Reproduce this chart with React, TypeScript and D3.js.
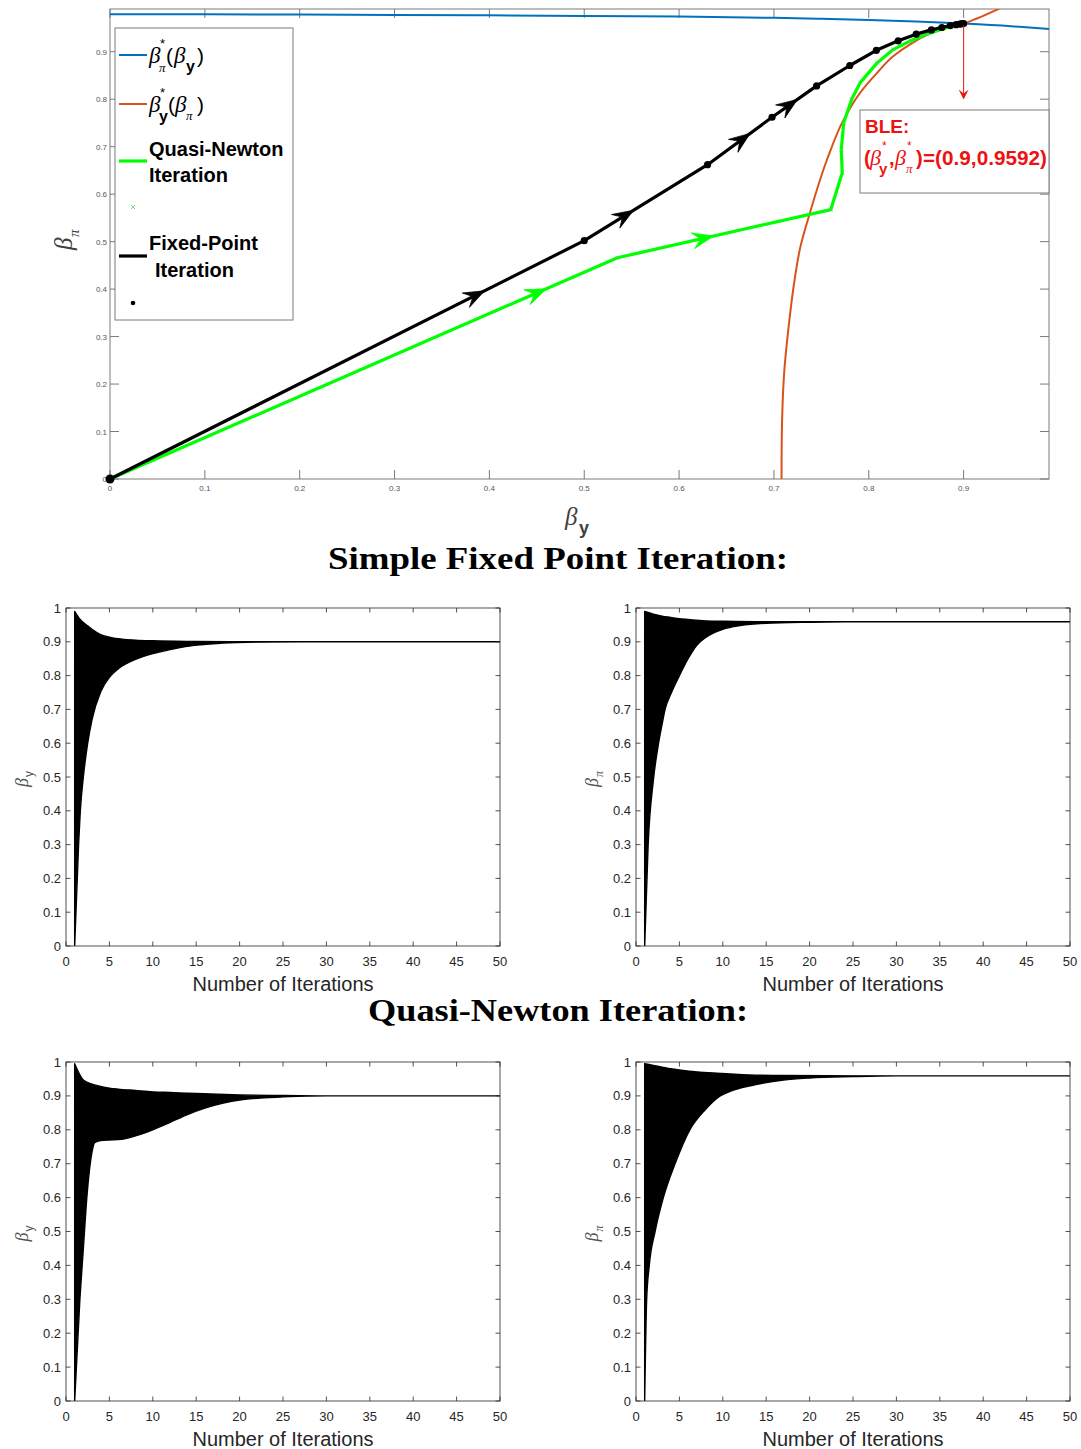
import React from "react";
import * as d3 from "d3";

// ---------- Top chart data ----------
const topTicks = [0, 0.1, 0.2, 0.3, 0.4, 0.5, 0.6, 0.7, 0.8, 0.9];
const topTickLabels = ["0", "0.1", "0.2", "0.3", "0.4", "0.5", "0.6", "0.7", "0.8", "0.9"];

// beta_pi*(beta_y)  (blue)
const blueX = [0, 0.1, 0.2, 0.3, 0.4, 0.5, 0.6, 0.7, 0.75, 0.8, 0.85, 0.9, 0.95, 0.99];
const blueY = [0.979, 0.9788, 0.9783, 0.9776, 0.9767, 0.9755, 0.974, 0.9715, 0.9695, 0.967, 0.9635, 0.9592, 0.9538, 0.948];

// beta_y*(beta_pi)  (orange)
const orangeY = [0, 0.05, 0.124, 0.23, 0.321, 0.406, 0.49, 0.561, 0.673, 0.757, 0.814, 0.856, 0.891, 0.916, 0.935, 0.949, 0.9592, 0.97, 0.995];
const orangeX = [0.708, 0.7081, 0.7086, 0.711, 0.7155, 0.7208, 0.728, 0.738, 0.756, 0.7735, 0.791, 0.809, 0.826, 0.844, 0.861, 0.879, 0.9, 0.914, 0.942];

// Fixed-point iteration path (black)
const fpX = [0, 0.5, 0.63, 0.698, 0.745, 0.78, 0.808, 0.831, 0.85, 0.866, 0.877, 0.886, 0.892, 0.896, 0.898, 0.9];
const fpY = [0, 0.502, 0.662, 0.762, 0.828, 0.871, 0.903, 0.923, 0.937, 0.946, 0.951, 0.955, 0.957, 0.958, 0.959, 0.9592];
const fpArrowSeg = [0, 1, 2, 3];
const fpArrowT = [0.79, 0.4, 0.66, 0.57];

// Quasi-Newton iteration path (green)
const qnX = [0, 0.535, 0.76, 0.772, 0.771, 0.7735, 0.782, 0.791, 0.809, 0.826, 0.844, 0.861, 0.879, 0.897, 0.9];
const qnY = [0, 0.466, 0.5675, 0.645, 0.694, 0.75, 0.8, 0.835, 0.877, 0.905, 0.923, 0.937, 0.949, 0.958, 0.9592];
const qnArrowSeg = [0, 1];
const qnArrowT = [0.86, 0.45];

const bleX = 0.9;
const bleY = 0.9592;

// ---------- Iteration panels data ----------
const iterTicks = [0, 5, 10, 15, 20, 25, 30, 35, 40, 45, 50];
const valTicks = [0, 0.1, 0.2, 0.3, 0.4, 0.5, 0.6, 0.7, 0.8, 0.9, 1];
const valTickLabels = ["0", "0.1", "0.2", "0.3", "0.4", "0.5", "0.6", "0.7", "0.8", "0.9", "1"];

// Simple fixed point, beta_y
const fpyUpperIt = [1, 1.5, 2, 2.5, 3, 4, 5, 6, 8, 10, 15, 20, 50];
const fpyUpperV = [0.99, 0.97, 0.957, 0.947, 0.937, 0.921, 0.914, 0.909, 0.905, 0.903, 0.901, 0.9, 0.9];
const fpyLowerIt = [1, 1.45, 1.65, 2, 2.5, 3, 4, 5, 6, 7, 8, 10, 12, 15, 18, 22, 30, 50];
const fpyLowerV = [0, 0.3, 0.4, 0.5, 0.6, 0.67, 0.752, 0.795, 0.82, 0.836, 0.848, 0.865, 0.877, 0.89, 0.896, 0.899, 0.9, 0.9];

// Simple fixed point, beta_pi
const fppUpperIt = [1, 2, 3, 4, 5, 6, 7, 8, 10, 15, 50];
const fppUpperV = [0.99, 0.982, 0.976, 0.972, 0.968, 0.966, 0.964, 0.962, 0.961, 0.9595, 0.9592];
const fppLowerIt = [1, 1.4, 2, 2.6, 3, 3.35, 4, 5, 6, 7, 8, 9, 10, 12, 15, 20, 25, 50];
const fppLowerV = [0, 0.3, 0.49, 0.6, 0.655, 0.7, 0.745, 0.8, 0.85, 0.89, 0.912, 0.927, 0.937, 0.948, 0.955, 0.958, 0.9592, 0.9592];

// Quasi-Newton, beta_y
const qnyUpperIt = [1, 2, 3, 4, 5, 6, 8, 10, 12, 15, 20, 25, 30, 50];
const qnyUpperV = [0.995, 0.947, 0.935, 0.928, 0.923, 0.92, 0.916, 0.912, 0.91, 0.907, 0.903, 0.901, 0.9, 0.9];
const qnyLowerIt = [1, 1.6, 2, 2.4, 3, 3.3, 4, 5, 6, 7, 8, 9, 10, 12, 14, 16, 18, 20, 25, 30, 50];
const qnyLowerV = [0, 0.3, 0.45, 0.6, 0.735, 0.762, 0.768, 0.77, 0.771, 0.775, 0.782, 0.79, 0.8, 0.822, 0.845, 0.864, 0.878, 0.888, 0.897, 0.9, 0.9];

// Quasi-Newton, beta_pi
const qnpUpperIt = [1, 2, 3, 4, 5.4, 7, 9.3, 13, 17, 25, 50];
const qnpUpperV = [0.995, 0.99, 0.985, 0.98, 0.975, 0.971, 0.967, 0.962, 0.96, 0.9592, 0.9592];
const qnpLowerIt = [1, 1.23, 1.53, 2.2, 3.15, 4.5, 6.2, 8, 9.7, 11, 13.2, 17, 20, 25, 30, 50];
const qnpLowerV = [0, 0.3, 0.4, 0.5, 0.6, 0.7, 0.8, 0.86, 0.9, 0.915, 0.93, 0.947, 0.953, 0.957, 0.9592, 0.9592];

// ---------- styling ----------
const BLUE = "#0072BD";
const ORANGE = "#D95319";
const GREEN = "#00FF00";
const RED = "#EE1111";
const AXIS = "#262626";
const SANS = "'Liberation Sans', Arial, sans-serif";
const SERIF = "'Liberation Serif', 'Times New Roman', serif";

function arrowHead(x: number, y: number, ang: number, L = 21, W = 16) {
  const c = Math.cos(ang), s = Math.sin(ang);
  const pt = (u: number, v: number) => [x + u * c - v * s, y + u * s + v * c];
  const p = [pt(0, 0), pt(-L, -W / 2), pt(-0.62 * L, 0), pt(-L, W / 2)];
  return "M" + p.map((q) => q[0].toFixed(2) + "," + q[1].toFixed(2)).join("L") + "Z";
}

function TopChart() {
  const L = 110, R = 1049, T = 9, B = 479;
  const x = d3.scaleLinear().domain([0, 0.99]).range([L, R]);
  const y = d3.scaleLinear().domain([0, 0.99]).range([B, T]);

  const blueLine = d3.line<number>().x((_, i) => x(blueX[i])).y((v) => y(v)).curve(d3.curveMonotoneX)(blueY) || "";
  const orangeLine = d3.line<number>().x((v) => x(v)).y((_, i) => y(orangeY[i])).curve(d3.curveMonotoneY)(orangeX) || "";
  const fpPts = fpX.map((v, i) => [x(v), y(fpY[i])] as [number, number]);
  const qnPts = qnX.map((v, i) => [x(v), y(qnY[i])] as [number, number]);
  const fpLine = d3.line()(fpPts) || "";
  const qnLine = d3.line()(qnPts) || "";

  const arrowFrom = (pts: [number, number][], seg: number, t: number) => {
    const a = pts[seg], b = pts[seg + 1];
    const px = a[0] + (b[0] - a[0]) * t, py = a[1] + (b[1] - a[1]) * t;
    return arrowHead(px, py, Math.atan2(b[1] - a[1], b[0] - a[0]));
  };

  const tickLen = 9;
  const bx = x(bleX), by = y(bleY);

  return (
    <g>
      <defs>
        <clipPath id="topclip">
          <rect x={L} y={T} width={R - L} height={B - T} />
        </clipPath>
      </defs>
      {/* axes box */}
      <rect x={L} y={T} width={R - L} height={B - T} fill="none" stroke="#7a7a7a" strokeWidth={1} />
      {topTicks.map((t, i) => (
        <g key={"xt" + i}>
          <line x1={x(t)} x2={x(t)} y1={B} y2={B - tickLen} stroke="#7a7a7a" />
          <line x1={x(t)} x2={x(t)} y1={T} y2={T + tickLen} stroke="#7a7a7a" />
          <text x={x(t)} y={B + 12} fontSize={8} fill="#555" textAnchor="middle" fontFamily={SANS}>{topTickLabels[i]}</text>
        </g>
      ))}
      {topTicks.map((t, i) => (
        <g key={"yt" + i}>
          <line x1={L} x2={L + tickLen} y1={y(t)} y2={y(t)} stroke="#7a7a7a" />
          <line x1={R} x2={R - tickLen} y1={y(t)} y2={y(t)} stroke="#7a7a7a" />
          <text x={L - 3} y={y(t) + 3} fontSize={8} fill="#555" textAnchor="end" fontFamily={SANS}>{topTickLabels[i]}</text>
        </g>
      ))}
      <g clipPath="url(#topclip)">
        <path d={blueLine} fill="none" stroke={BLUE} strokeWidth={2} />
        <path d={orangeLine} fill="none" stroke={ORANGE} strokeWidth={2} />
      </g>
      {/* Quasi-Newton path */}
      <path d={qnLine} fill="none" stroke={GREEN} strokeWidth={3.2} strokeLinejoin="round" />
      {qnPts.map((p, i) => (
        <path key={"qx" + i} d={`M${p[0] - 2},${p[1] - 2}L${p[0] + 2},${p[1] + 2}M${p[0] - 2},${p[1] + 2}L${p[0] + 2},${p[1] - 2}`} stroke="#4fd24f" strokeWidth={0.8} />
      ))}
      {qnArrowSeg.map((s, i) => (
        <path key={"qa" + i} d={arrowFrom(qnPts, s, qnArrowT[i])} fill={GREEN} stroke={GREEN} strokeWidth={0.8} />
      ))}
      {/* Fixed-point path */}
      <path d={fpLine} fill="none" stroke="#000" strokeWidth={3.2} strokeLinejoin="round" />
      {fpPts.map((p, i) => (
        <circle key={"fd" + i} cx={p[0]} cy={p[1]} r={i === 0 ? 4.5 : 3.6} fill="#000" />
      ))}
      {fpArrowSeg.map((s, i) => (
        <path key={"fa" + i} d={arrowFrom(fpPts, s, fpArrowT[i])} fill="#000" stroke="#000" strokeWidth={0.8} />
      ))}
      {/* BLE arrow */}
      <line x1={bx} x2={bx} y1={by + 2} y2={by + 74} stroke={RED} strokeWidth={1} />
      <path d={`M${bx - 5},${by + 66}L${bx},${by + 76}L${bx + 5},${by + 66}L${bx},${by + 70}Z`} fill={RED} />
      {/* BLE box */}
      <rect x={860} y={110} width={189} height={83} fill="#fff" stroke="#7a7a7a" strokeWidth={1} />
      <text x={865} y={133} fill={RED} fontSize={19} fontWeight="bold" fontFamily={SANS}>BLE:</text>
      <g fill={RED} fontWeight="bold" fontFamily={SANS}>
        <text x={864} y={165} fontSize={20}>(</text>
        <text x={870} y={165} fontSize={22} fontStyle="italic" fontWeight="normal" fontFamily={SERIF}>β</text>
        <text x={882} y={150} fontSize={12} fontWeight="normal">*</text>
        <text x={879} y={174} fontSize={15}>y</text>
        <text x={889} y={165} fontSize={20}>,</text>
        <text x={895} y={165} fontSize={22} fontStyle="italic" fontWeight="normal" fontFamily={SERIF}>β</text>
        <text x={907} y={150} fontSize={12} fontWeight="normal">*</text>
        <text x={906} y={173} fontSize={13} fontStyle="italic" fontWeight="normal" fontFamily={SERIF}>π</text>
        <text x={916} y={165} fontSize={20}>)</text>
        <text x={923} y={165} fontSize={20} textLength={124} lengthAdjust="spacingAndGlyphs">=(0.9,0.9592)</text>
      </g>
      {/* Legend */}
      <rect x={115} y={28} width={178} height={292} fill="#fff" stroke="#7a7a7a" strokeWidth={1} />
      <line x1={119} x2={147} y1={55} y2={55} stroke={BLUE} strokeWidth={2} />
      <g fill="#000" fontFamily={SANS}>
        <text x={149} y={63} fontSize={23} fontStyle="italic" fontFamily={SERIF}>β</text>
        <text x={160} y={48} fontSize={13}>*</text>
        <text x={159} y={72} fontSize={13} fontStyle="italic" fontFamily={SERIF}>π</text>
        <text x={166} y={63} fontSize={21}>(</text>
        <text x={174} y={63} fontSize={23} fontStyle="italic" fontFamily={SERIF}>β</text>
        <text x={186} y={72} fontSize={16} fontWeight="bold">y</text>
        <text x={197} y={63} fontSize={21}>)</text>
      </g>
      <line x1={119} x2={147} y1={104} y2={104} stroke={ORANGE} strokeWidth={2} />
      <g fill="#000" fontFamily={SANS}>
        <text x={149} y={112} fontSize={23} fontStyle="italic" fontFamily={SERIF}>β</text>
        <text x={160} y={97} fontSize={13}>*</text>
        <text x={159} y={122} fontSize={16} fontWeight="bold">y</text>
        <text x={168} y={112} fontSize={21}>(</text>
        <text x={175} y={112} fontSize={23} fontStyle="italic" fontFamily={SERIF}>β</text>
        <text x={186} y={120} fontSize={13} fontStyle="italic" fontFamily={SERIF}>π</text>
        <text x={197} y={112} fontSize={21}>)</text>
      </g>
      <line x1={119} x2={147} y1={161} y2={161} stroke={GREEN} strokeWidth={3.2} />
      <text x={149} y={156} fontSize={20} fontWeight="bold" fontFamily={SANS} fill="#000">Quasi-Newton</text>
      <text x={149} y={182} fontSize={20} fontWeight="bold" fontFamily={SANS} fill="#000">Iteration</text>
      <path d="M131,205L135,209M131,209L135,205" stroke="#4fd24f" strokeWidth={0.8} />
      <line x1={119} x2={147} y1={256} y2={256} stroke="#000" strokeWidth={3.2} />
      <text x={149} y={250} fontSize={20} fontWeight="bold" fontFamily={SANS} fill="#000">Fixed-Point</text>
      <text x={155} y={277} fontSize={20} fontWeight="bold" fontFamily={SANS} fill="#000">Iteration</text>
      <circle cx={133} cy={303} r={2.3} fill="#000" />
      {/* axis labels */}
      <g transform="translate(72,250) rotate(-90)" fill="#404040">
        <text x={0} y={0} fontSize={25} fontStyle="italic" fontFamily={SERIF}>β</text>
        <text x={13} y={7} fontSize={15} fontStyle="italic" fontFamily={SERIF}>π</text>
      </g>
      <g fill="#404040">
        <text x={565} y={525} fontSize={25} fontStyle="italic" fontFamily={SERIF}>β</text>
        <text x={579} y={534} fontSize={18} fontWeight="bold" fontFamily={SANS}>y</text>
      </g>
    </g>
  );
}

type PanelProps = {
  left: number; right: number; top: number; bottom: number;
  upIt: number[]; upV: number[]; loIt: number[]; loV: number[];
  sub: string; id: string;
};

function IterPanel(p: PanelProps) {
  const x = d3.scaleLinear().domain([0, 50]).range([p.left, p.right]);
  const y = d3.scaleLinear().domain([0, 1]).range([p.bottom, p.top]);
  const line = d3.line<[number, number]>().x((d) => x(d[0])).y((d) => y(d[1])).curve(d3.curveMonotoneX);
  const up = p.upIt.map((v, i) => [v, p.upV[i]] as [number, number]);
  const lo = p.loIt.map((v, i) => [v, p.loV[i]] as [number, number]).reverse();
  const upPath = line(up) || "";
  const loPath = (line(lo) || "").replace(/^M/, "L");
  const area = upPath + loPath + "Z";
  const tl = 4.5;
  const cx = (p.left + p.right) / 2;
  const cy = (p.top + p.bottom) / 2;
  return (
    <g>
      <defs>
        <clipPath id={p.id}>
          <rect x={p.left} y={p.top - 2} width={p.right - p.left} height={p.bottom - p.top + 2} />
        </clipPath>
      </defs>
      <g clipPath={`url(#${p.id})`}>
        <path d={area} fill="#000" stroke="#000" strokeWidth={1.4} strokeLinejoin="round" />
      </g>
      <rect x={p.left} y={p.top} width={p.right - p.left} height={p.bottom - p.top} fill="none" stroke={AXIS} strokeWidth={0.8} />
      {iterTicks.map((t, i) => (
        <g key={"x" + i}>
          <line x1={x(t)} x2={x(t)} y1={p.bottom} y2={p.bottom - tl} stroke={AXIS} strokeWidth={0.8} />
          <line x1={x(t)} x2={x(t)} y1={p.top} y2={p.top + tl} stroke={AXIS} strokeWidth={0.8} />
          <text x={x(t)} y={p.bottom + 20} fontSize={13} fill={AXIS} textAnchor="middle" fontFamily={SANS}>{t}</text>
        </g>
      ))}
      {valTicks.map((t, i) => (
        <g key={"y" + i}>
          <line x1={p.left} x2={p.left + tl} y1={y(t)} y2={y(t)} stroke={AXIS} strokeWidth={0.8} />
          <line x1={p.right} x2={p.right - tl} y1={y(t)} y2={y(t)} stroke={AXIS} strokeWidth={0.8} />
          <text x={p.left - 5} y={y(t) + 4.5} fontSize={13} fill={AXIS} textAnchor="end" fontFamily={SANS}>{valTickLabels[i]}</text>
        </g>
      ))}
      <text x={cx} y={p.bottom + 45} fontSize={20} fill={AXIS} textAnchor="middle" fontFamily={SANS} textLength={181} lengthAdjust="spacingAndGlyphs">Number of Iterations</text>
      <g transform={`translate(${p.left - 38},${cy + 10}) rotate(-90)`} fill="#555">
        <text x={0} y={0} fontSize={18} fontStyle="italic" fontFamily={SERIF}>β</text>
        <text x={10} y={5} fontSize={12} fontFamily={p.sub === "π" ? SERIF : SANS} fontStyle={p.sub === "π" ? "italic" : "normal"}>{p.sub}</text>
      </g>
    </g>
  );
}

export default function App() {
  return (
    <svg width={1081} height={1449} style={{ position: "absolute", left: 0, top: 0, background: "#fff" }}>
      <rect x={0} y={0} width={1081} height={1449} fill="#fff" />
      <TopChart />
      <text x={558} y={569} fontSize={31} fontWeight="bold" fontFamily={SERIF} textAnchor="middle" fill="#000" textLength={460} lengthAdjust="spacingAndGlyphs">Simple Fixed Point Iteration:</text>
      <text x={558} y={1021} fontSize={31} fontWeight="bold" fontFamily={SERIF} textAnchor="middle" fill="#000" textLength={380} lengthAdjust="spacingAndGlyphs">Quasi-Newton Iteration:</text>
      <IterPanel id="pa" left={66} right={500} top={608} bottom={946} upIt={fpyUpperIt} upV={fpyUpperV} loIt={fpyLowerIt} loV={fpyLowerV} sub="y" />
      <IterPanel id="pb" left={636} right={1070} top={608} bottom={946} upIt={fppUpperIt} upV={fppUpperV} loIt={fppLowerIt} loV={fppLowerV} sub="π" />
      <IterPanel id="pc" left={66} right={500} top={1062} bottom={1401} upIt={qnyUpperIt} upV={qnyUpperV} loIt={qnyLowerIt} loV={qnyLowerV} sub="y" />
      <IterPanel id="pd" left={636} right={1070} top={1062} bottom={1401} upIt={qnpUpperIt} upV={qnpUpperV} loIt={qnpLowerIt} loV={qnpLowerV} sub="π" />
    </svg>
  );
}
